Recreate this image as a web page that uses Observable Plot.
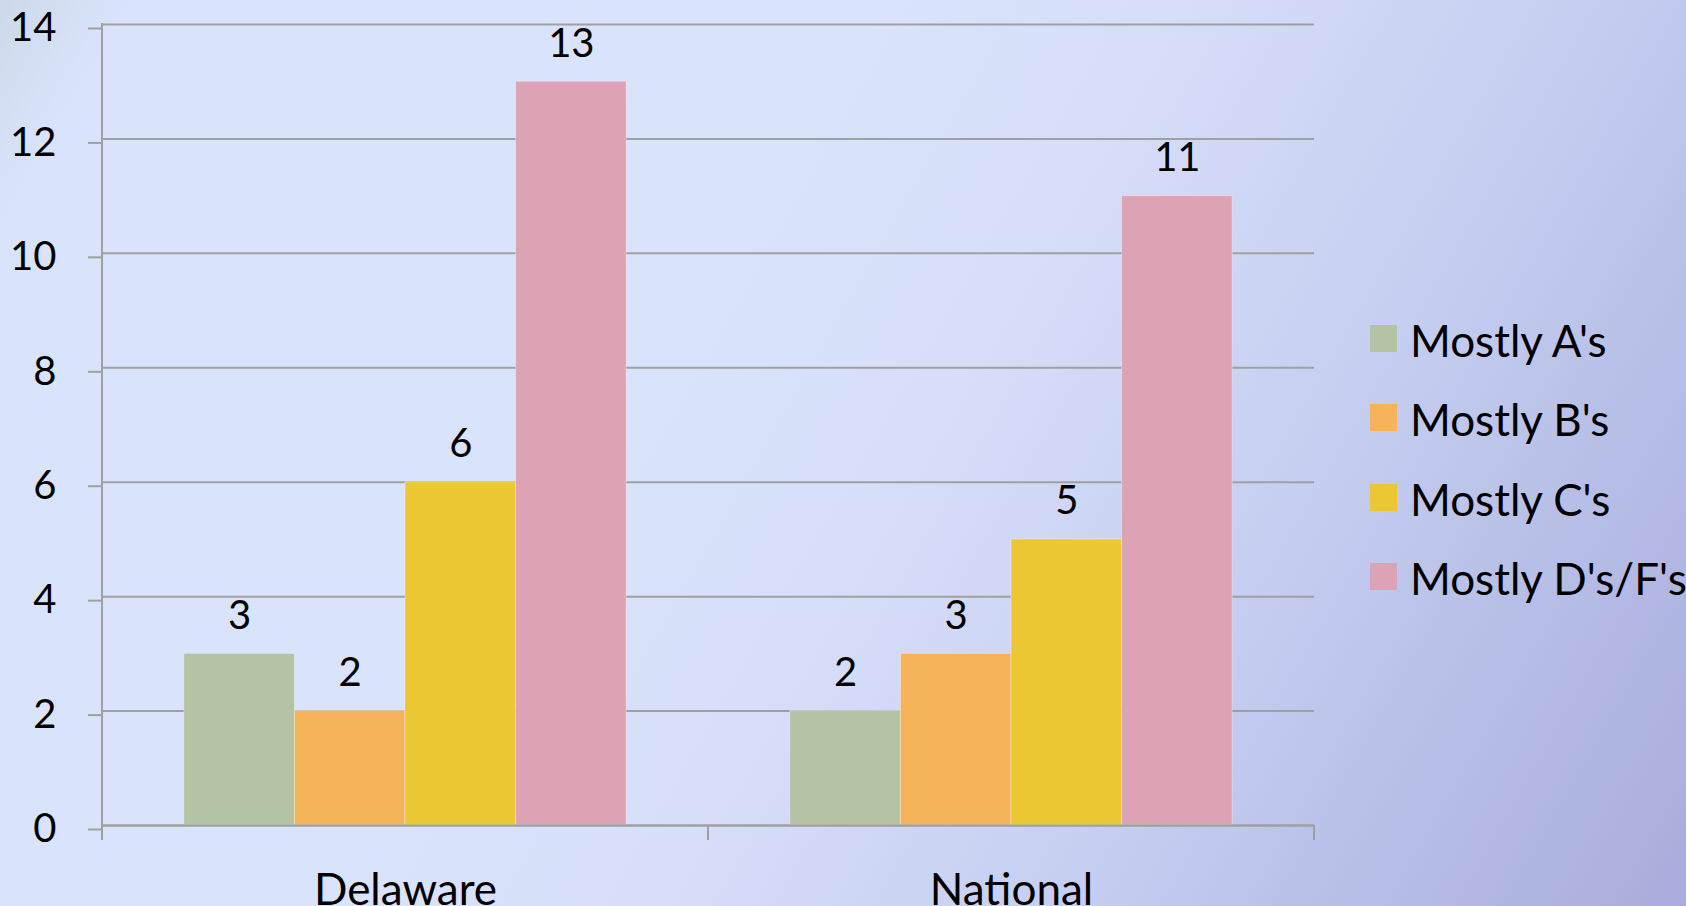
<!DOCTYPE html>
<html>
<head>
<meta charset="utf-8">
<script src="https://cdn.jsdelivr.net/npm/d3@7"></script>
<script src="https://cdn.jsdelivr.net/npm/@observablehq/plot@0.6"></script>
<style>
  html, body { margin: 0; padding: 0; }
  #wrap {
    position: relative; width: 1686px; height: 906px; overflow: hidden;
    font-family: Lato, "Open Sans", sans-serif; color: #000;
    background: linear-gradient(120deg, #cdd9e9 0%, #dae3fc 6%, #dae3fc 40%, #d6def9 53%, #c8d0f2 70%, #bcc4ea 80%, #a8acdc 100%);
  }
  #chart { position: absolute; left: 0; top: 0; }
  #legend { position: absolute; left: 1370px; top: 318px; }
  .row { display: flex; align-items: flex-start; height: 79.3px; }
  .sw { width: 27px; height: 27px; margin-top: 7px; margin-right: 13px; flex: none; }
  .lab { font-size: 44px; line-height: 44px; white-space: nowrap; }
</style>
</head>
<body>
<div id="wrap">
  <div id="chart"></div>
  <div id="legend"></div>
</div>
<script>
const groups = ["Delaware", "National"];
const series = ["Mostly A's", "Mostly B's", "Mostly C's", "Mostly D's/F's"];
const delaware = [3, 2, 6, 13];
const national = [2, 3, 5, 11];
const colors = ["#b4c3a3", "#f5b35a", "#ecc734", "#dca3b5"];
const yTicks = [0, 2, 4, 6, 8, 10, 12, 14];

const valuesByGroup = [delaware, national];
const data = groups.flatMap((g, gi) =>
  series.map((s, si) => ({group: g, series: s, value: valuesByGroup[gi][si]}))
);

const gridColor = "#a0a0a0";

const plot = Plot.plot({
  width: 1686,
  height: 906,
  marginLeft: 102,
  marginRight: 372,
  marginTop: 24,
  marginBottom: 81,
  style: {background: "transparent", fontFamily: "Lato, 'Open Sans', sans-serif", color: "#000", overflow: "visible"},
  fx: {domain: groups, padding: 0, round: false, label: null},
  x: {domain: series, paddingInner: 0, paddingOuter: 0.74, round: false, axis: null},
  y: {domain: [0, 14], label: null},
  color: {domain: series, range: colors},
  marks: [
    Plot.gridY({ticks: yTicks, stroke: gridColor, strokeOpacity: 1, strokeWidth: 2}),
    Plot.axisY({ticks: yTicks, tickSize: 14, tickPadding: 32, fontSize: 40, stroke: gridColor, strokeWidth: 2, strokeOpacity: 1, fill: "#000", label: null, dy: 4}),
    Plot.barY(data, {fx: "group", x: "series", y: "value", fill: "series", stroke: "#ffffff", strokeOpacity: 0.35, strokeWidth: 1}),
    Plot.ruleY([0], {stroke: gridColor, strokeWidth: 2}),
    Plot.text(data, {fx: "group", x: "series", y: "value", text: d => String(d.value), dy: -38, fontSize: 40, fill: "#000"}),
    Plot.axisFx({anchor: "bottom", tickSize: 0, tickPadding: 48, fontSize: 44, fill: "#000", label: null})
  ]
});

document.getElementById("chart").appendChild(plot);

// Excel-style axis line and category boundary ticks, positioned from Plot's scales
const fxs = plot.scale("fx");
const ys = plot.scale("y");
const edges = groups.map(g => fxs.apply(g)).concat([fxs.apply(groups[groups.length - 1]) + fxs.bandwidth]);
const y0 = ys.apply(0), yTop = ys.apply(yTicks[yTicks.length - 1]);
const svg = d3.select(plot);
const deco = svg.append("g").attr("stroke", gridColor).attr("stroke-width", 2);
deco.append("line").attr("x1", edges[0]).attr("x2", edges[0]).attr("y1", yTop - 1).attr("y2", y0 + 15);
edges.forEach(x => {
  deco.append("line").attr("x1", x).attr("x2", x).attr("y1", y0).attr("y2", y0 + 15);
});

// Legend
const legend = d3.select("#legend");
series.forEach((s, i) => {
  const row = legend.append("div").attr("class", "row");
  row.append("div").attr("class", "sw").style("background", colors[i]);
  row.append("div").attr("class", "lab").text(s);
});
</script>
</body>
</html>
